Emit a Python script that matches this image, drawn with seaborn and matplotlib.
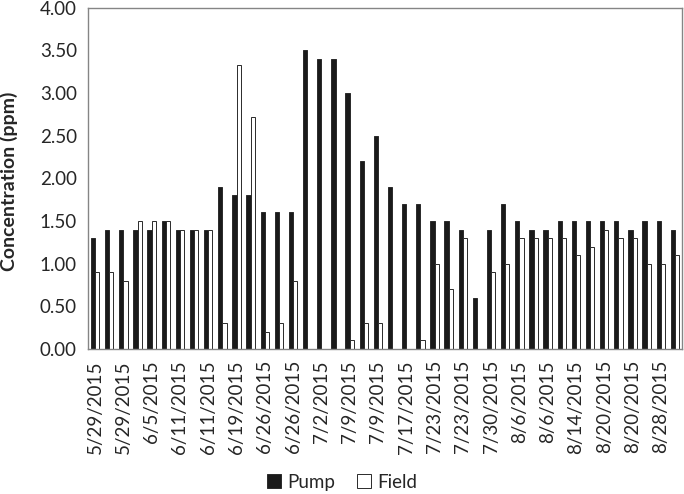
import numpy as np
import pandas as pd
import matplotlib
matplotlib.use("Agg")
import matplotlib.pyplot as plt
import seaborn as sns

# Sampling events in order (42 bars); only every other date is labelled on the axis
tick_dates = ["5/29/2015", "5/29/2015", "6/5/2015", "6/11/2015", "6/11/2015",
              "6/19/2015", "6/26/2015", "6/26/2015", "7/2/2015", "7/9/2015",
              "7/9/2015", "7/17/2015", "7/23/2015", "7/23/2015", "7/30/2015",
              "8/6/2015", "8/6/2015", "8/14/2015", "8/20/2015", "8/20/2015",
              "8/28/2015"]

pump = [1.3, 1.4, 1.4, 1.4, 1.4, 1.5, 1.4, 1.4, 1.4, 1.9,
        1.8, 1.8, 1.6, 1.6, 1.6, 3.5, 3.4, 3.4, 3.0, 2.2,
        2.5, 1.9, 1.7, 1.7, 1.5, 1.5, 1.4, 0.6, 1.4, 1.7,
        1.5, 1.4, 1.4, 1.5, 1.5, 1.5, 1.5, 1.5, 1.4, 1.5,
        1.5, 1.4]

field = [0.9, 0.9, 0.8, 1.5, 1.5, 1.5, 1.4, 1.4, 1.4, 0.31,
         3.33, 2.72, 0.2, 0.3, 0.8, 0.0, 0.0, 0.0, 0.1, 0.3,
         0.3, 0.0, 0.0, 0.1, 1.0, 0.7, 1.3, 0.0, 0.9, 1.0,
         1.3, 1.3, 1.3, 1.3, 1.1, 1.2, 1.4, 1.3, 1.3, 1.0,
         1.0, 1.1]

n = len(pump)
df = pd.DataFrame({
    "sample": list(range(n)) * 2,
    "conc": pump + field,
    "source": ["Pump"] * n + ["Field"] * n,
})

sns.set_style("white")
plt.rcParams["font.family"] = ["Lato", "DejaVu Sans"]

fig = plt.figure(figsize=(6.84, 4.94), dpi=100)
ax = fig.add_axes([0.1287, 0.2935, 0.9971 - 0.1287, 0.9845 - 0.2935])

sns.barplot(data=df, x="sample", y="conc", hue="source", hue_order=["Pump", "Field"],
            palette={"Pump": "#1a1a1a", "Field": "white"}, width=0.6,
            edgecolor="#2a2a2a", linewidth=0.7, errorbar=None, ax=ax)

grey = "#858585"
ax.set_xlim(-0.5, n - 0.5)
ax.set_ylim(0, 4.0)
ax.set_yticks(np.arange(0, 4.01, 0.5))
ax.set_yticklabels([f"{v:.2f}" for v in np.arange(0, 4.01, 0.5)], fontsize=13.5)

# labels on every other bar, tick marks between bars
ax.set_xticks(np.arange(0, n, 2))
ax.set_xticklabels(tick_dates, rotation=90, fontsize=13.5)
ax.set_xticks(np.arange(-0.5, n, 1), minor=True)
ax.tick_params(axis="x", which="major", length=0, pad=8)
ax.tick_params(axis="x", which="minor", length=5, color=grey, width=1, direction="out")
ax.tick_params(axis="y", length=5, color=grey, width=1, direction="out", pad=3)
ax.set_xlabel("")
ax.set_ylabel("Concentration (ppm)", fontsize=14, fontweight="bold")
ax.yaxis.set_label_coords(-0.118, 0.49)

for s in ax.spines.values():
    s.set_visible(True)
    s.set_color(grey)
    s.set_linewidth(1.0)

handles, labels = ax.get_legend_handles_labels()
ax.get_legend().remove()
fig.legend(handles, labels, loc="center", bbox_to_anchor=(342 / 684, 1 - 482 / 494),
           ncol=2, frameon=False, fontsize=13.5, handlelength=0.75, handleheight=0.75,
           handletextpad=0.3, columnspacing=1.2)

fig.savefig("out.png", dpi=100)
